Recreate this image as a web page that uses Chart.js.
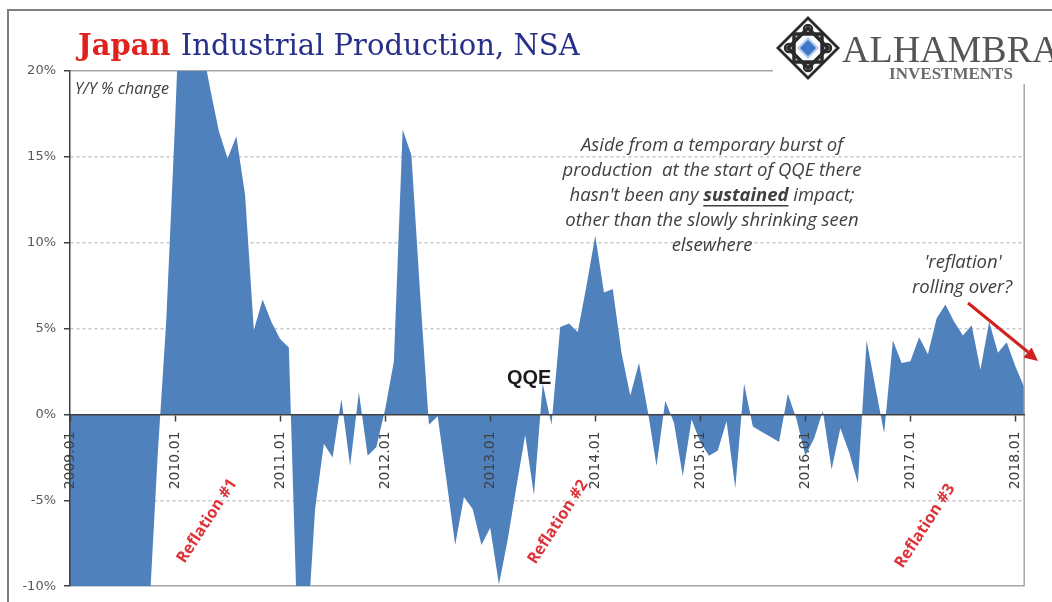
<!DOCTYPE html>
<html>
<head>
<meta charset="utf-8">
<title>Japan Industrial Production, NSA</title>
<script src="https://cdn.jsdelivr.net/npm/chart.js@4.4.1/dist/chart.umd.min.js"></script>
<style>
  html, body { margin: 0; padding: 0; background: #fff; }
  #wrap { width: 1052px; height: 602px; }
</style>
</head>
<body>
<div id="wrap"><canvas id="ip-chart" width="1052" height="602"></canvas></div>
<script>
  "use strict";

  // Categories: monthly, 2009.01 .. 2018.02
  var years = [2009, 2010, 2011, 2012, 2013, 2014, 2015, 2016, 2017, 2018];
  var months = ["01", "02", "03", "04", "05", "06", "07", "08", "09", "10", "11", "12"];

  // Y/Y % change (values past the axis limits are clipped)
  var ip2009 = [-30.8, -38.4, -34.2, -31.2, -29.5, -23.5, -22.1, -18.7, -18.3, -12.0, -2.5, 5.5];
  var ip2010 = [17.0, 30.0, 27.0, 21.7, 19.0, 16.5, 14.9, 16.2, 12.8, 4.9, 6.7, 5.4];
  var ip2011 = [4.4, 3.9, -13.1, -13.6, -5.5, -1.7, -2.5, 0.9, -3.0, 1.3, -2.4, -1.9];
  var ip2012 = [0.3, 3.1, 16.6, 15.1, 7.0, -0.6, -0.1, -3.8, -7.6, -4.8, -5.5, -7.6];
  var ip2013 = [-6.6, -9.9, -7.3, -4.2, -1.2, -4.7, 1.8, -0.6, 5.1, 5.3, 4.8, 7.5];
  var ip2014 = [10.4, 7.1, 7.3, 3.6, 1.1, 3.0, 0.2, -3.0, 0.8, -0.5, -3.6, -0.3];
  var ip2015 = [-1.6, -2.4, -2.1, -0.4, -4.3, 1.8, -0.7, -1.0, -1.3, -1.6, 1.2, -0.3];
  var ip2016 = [-2.4, -1.4, 0.2, -3.2, -0.8, -2.2, -4.0, 4.3, 1.6, -1.1, 4.3, 3.0];
  var ip2017 = [3.1, 4.5, 3.5, 5.6, 6.4, 5.4, 4.6, 5.2, 2.6, 5.4, 3.6, 4.2];
  var ip2018 = [2.8, 1.6];

  // Y axis ticks
  var yTicks = [-10, -5, 0, 5, 10, 15, 20];

  // Annotation texts
  var noteLines = [
    "Aside from a temporary burst of",
    "production  at the start of QQE there",
    ["hasn't been any ", "sustained", " impact;"],
    "other than the slowly shrinking seen",
    "elsewhere"
  ];
  var reflationLabels = ["Reflation #1", "Reflation #2", "Reflation #3"];

  var ipValues = [].concat(ip2009, ip2010, ip2011, ip2012, ip2013, ip2014, ip2015, ip2016, ip2017, ip2018);
  var monthLabels = [];
  years.forEach(function (y) {
    months.forEach(function (m) {
      if (monthLabels.length < ipValues.length) monthLabels.push(y + "." + m);
    });
  });

  var isJanuary = function (i) {
    return monthLabels[i] !== undefined && monthLabels[i].slice(-3) === ".01";
  };


  // Background, outer frame and right border of the plot
  var framePlugin = {
    id: "frame",
    beforeDraw: function (chart) {
      var c = chart.ctx;
      c.save();
      c.fillStyle = "#fff";
      c.fillRect(0, 0, chart.width, chart.height);
      c.restore();
    },
    afterDatasetsDraw: function (chart) {
      var c = chart.ctx, a = chart.chartArea;
      c.save();
      c.strokeStyle = "#a6a6a6";
      c.lineWidth = 1.5;
      c.beginPath();
      c.moveTo(a.right, a.top);
      c.lineTo(a.right, a.bottom);
      c.stroke();
      c.restore();
    },
    afterDraw: function (chart) {
      var c = chart.ctx;
      c.save();
      c.strokeStyle = "#7f7f7f";
      c.lineWidth = 2;
      c.beginPath();
      c.moveTo(8, chart.height);
      c.lineTo(8, 10);
      c.lineTo(chart.width, 10);
      c.stroke();
      c.restore();
    }
  };


  // Title, logo and annotations
  var diamond = function (c, cx, cy, r) {
    c.beginPath();
    c.moveTo(cx, cy - r);
    c.lineTo(cx + r, cy);
    c.lineTo(cx, cy + r);
    c.lineTo(cx - r, cy);
    c.closePath();
  };

  var notesPlugin = {
    id: "notes",
    afterDraw: function (chart) {
      var c = chart.ctx;
      c.save();

      // Title
      c.textBaseline = "alphabetic";
      c.textAlign = "left";
      c.font = "bold 29px 'DejaVu Serif', serif";
      c.fillStyle = "#e3211c";
      c.fillText("Japan", 78, 55);
      var w = c.measureText("Japan ").width;
      c.font = "29px 'DejaVu Serif', serif";
      c.fillStyle = "#26308a";
      c.fillText("Industrial Production, NSA", 78 + w, 55);

      // Logo
      c.fillStyle = "#fff";
      c.fillRect(773, 12, chart.width - 773, 72);
      var lx = 808, ly = 48;
      c.fillStyle = "#2b2b2b";
      diamond(c, lx, ly, 32);
      c.fill();
      c.fillStyle = "#fff";
      diamond(c, lx, ly, 28);
      c.fill();
      c.strokeStyle = "#2b2b2b";
      c.lineWidth = 3.5;
      c.strokeRect(lx - 14, ly - 14, 28, 28);
      diamond(c, lx, ly, 20);
      c.stroke();
      c.lineWidth = 2.5;
      [[0, -19], [19, 0], [0, 19], [-19, 0]].forEach(function (p) {
        c.beginPath();
        c.arc(lx + p[0], ly + p[1], 4, 0, Math.PI * 2);
        c.stroke();
      });
      c.fillStyle = "#b3cbee";
      diamond(c, lx, ly, 11);
      c.fill();
      c.fillStyle = "#3f74c9";
      diamond(c, lx, ly, 8);
      c.fill();

      c.fillStyle = "#555";
      c.font = "38px 'Liberation Serif', serif";
      c.fillText("ALHAMBRA", 842, 62);
      c.fillStyle = "#6b6b6b";
      c.font = "bold 17px 'Liberation Serif', serif";
      c.textAlign = "center";
      c.fillText("INVESTMENTS", 951, 79);

      // Y/Y % change
      c.textAlign = "left";
      c.textBaseline = "middle";
      c.fillStyle = "#404040";
      c.font = "italic 16px 'Open Sans', sans-serif";
      c.fillText("Y/Y % change", 75, 89);

      // QQE
      c.fillStyle = "#1a1a1a";
      c.font = "bold 20px 'Liberation Sans', sans-serif";
      c.fillText("QQE", 507, 378);

      // Paragraph
      var noteFont = "italic 18.5px 'Open Sans', sans-serif";
      var boldFont = "bold italic 18.5px 'Open Sans', sans-serif";
      c.fillStyle = "#404040";
      c.textAlign = "center";
      noteLines.forEach(function (line, i) {
        var y = 146 + i * 25;
        if (typeof line === "string") {
          c.font = noteFont;
          c.fillText(line, 712, y);
          return;
        }
        c.textAlign = "left";
        c.font = noteFont;
        var w0 = c.measureText(line[0]).width, w2 = c.measureText(line[2]).width;
        c.font = boldFont;
        var w1 = c.measureText(line[1]).width;
        var x = 712 - (w0 + w1 + w2) / 2;
        c.font = noteFont;
        c.fillText(line[0], x, y);
        c.font = boldFont;
        c.fillText(line[1], x + w0, y);
        c.fillRect(x + w0, y + 9, w1, 1.5);
        c.font = noteFont;
        c.fillText(line[2], x + w0 + w1, y);
        c.textAlign = "center";
      });
      c.fillText("'reflation'", 963, 263);
      c.fillText("rolling over?", 962, 288);

      // Arrow
      c.strokeStyle = "#d02020";
      c.fillStyle = "#d02020";
      c.lineWidth = 3;
      c.beginPath();
      c.moveTo(968, 303);
      c.lineTo(1028, 352);
      c.stroke();
      var ang = Math.atan2(360 - 303, 1038 - 968);
      c.beginPath();
      c.moveTo(1038, 361);
      c.lineTo(1038 - 15 * Math.cos(ang - 0.45), 361 - 15 * Math.sin(ang - 0.45));
      c.lineTo(1038 - 15 * Math.cos(ang + 0.45), 361 - 15 * Math.sin(ang + 0.45));
      c.closePath();
      c.fill();

      // Reflation labels
      c.fillStyle = "#dc3338";
      c.font = "bold 16px 'Open Sans', sans-serif";
      [[207, 521], [558, 522], [925, 526]].forEach(function (p, i) {
        c.save();
        c.translate(p[0], p[1]);
        c.rotate(-57 * Math.PI / 180);
        c.fillText(reflationLabels[i], 0, 0);
        c.restore();
      });

      c.restore();
    }
  };


  // Japan IP chart
  var ctx = document.getElementById("ip-chart").getContext("2d");
  var ipChart = new Chart(ctx, {
    type: "line",
    data: {
      labels: monthLabels,
      datasets: [{
        label: "Japan Industrial Production, NSA",
        data: ipValues,
        fill: "origin",
        backgroundColor: "#4f81bd",
        borderColor: "#4f81bd",
        borderWidth: 0,
        pointRadius: 0,
        tension: 0
      }]
    },
    options: {
      responsive: false,
      animation: false,
      layout: { padding: { left: 0, top: 71, right: 27, bottom: 9 } },
      plugins: {
        legend: { display: false },
        tooltip: { enabled: false },
        title: { display: false }
      },
      scales: {
        x: {
          type: "category",
          position: { y: 0 },
          offset: false,
          grid: {
            drawOnChartArea: false,
            drawTicks: true,
            tickLength: 6,
            tickWidth: 1.5,
            tickColor: function (c) { return isJanuary(c.index) ? "#404040" : "rgba(0,0,0,0)"; },
            z: 1
          },
          border: { color: "#404040", width: 1.5, z: 1 },
          ticks: {
            autoSkip: false,
            minRotation: 90,
            maxRotation: 90,
            padding: 11,
            color: "#404040",
            font: { family: "'DejaVu Sans', sans-serif", size: 14 },
            callback: function (v, i) { return isJanuary(i) ? monthLabels[i] : ""; },
            z: 1
          },
          afterFit: function (s) { s.height = 0; }
        },
        y: {
          min: yTicks[0],
          max: yTicks[yTicks.length - 1],
          ticks: {
            stepSize: 5,
            padding: 8,
            color: "#595959",
            font: { family: "'DejaVu Sans', sans-serif", size: 13 },
            callback: function (v) { return v + "%"; }
          },
          grid: {
            drawTicks: true,
            tickLength: 6,
            tickColor: "#404040",
            color: function (c) {
              if (!c.tick) return "#c8c8c8";
              if (c.tick.value === 0) return "rgba(0,0,0,0)";
              if (c.tick.value === 20 || c.tick.value === -10) return "#a6a6a6";
              return "#c8c8c8";
            },
            lineWidth: 1.5
          },
          border: {
            color: "#404040",
            width: 1.5,
            z: 1,
            dash: function (c) {
              return (c.tick && (c.tick.value === 20 || c.tick.value === -10)) ? [] : [3, 3];
            }
          },
          afterFit: function (s) { s.width = 70; }
        }
      }
    },
    plugins: [framePlugin, notesPlugin]
  });
</script>
</body>
</html>
